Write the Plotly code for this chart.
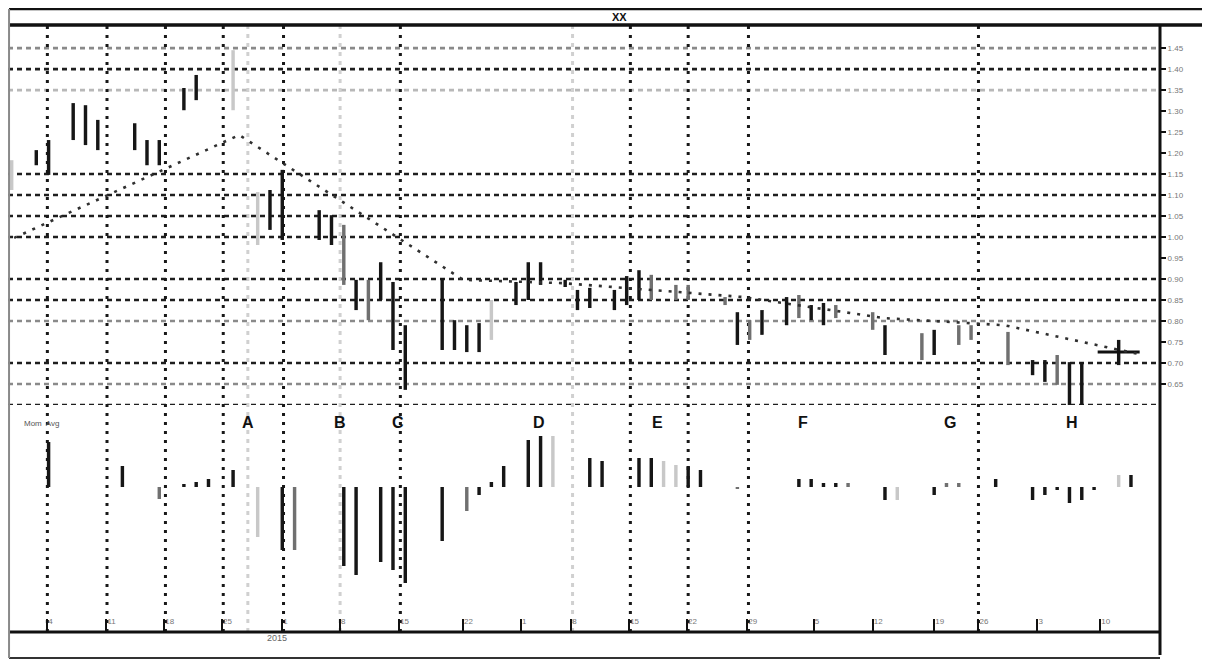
import plotly.graph_objects as go

# ---------------- data ----------------
# price bars: trading-day index, high, low, print shade (0 dark, 1 mid, 2 faint)
bar_days = [0, 2, 3, 5, 6, 7, 10, 11, 12, 14, 15, 18, 20, 21, 22, 25, 26, 27, 28, 29,
            30, 31, 32, 35, 36, 37, 38, 39, 41, 42, 43, 45, 46, 47, 49, 50, 51, 52, 54, 55,
            58, 59, 60, 61, 63, 64, 65, 66, 67, 70, 71, 74, 75, 77, 78, 81, 83, 84, 85, 86,
            87, 90]
bar_high = [118.3, 120.7, 123.1, 131.9, 131.4, 127.9, 127.1, 123.1, 123.1, 135.5, 138.6, 144.5,
            110.7, 111.2, 116.0, 106.4, 105.2, 102.9, 89.8, 89.8, 94.0, 89.3, 79.0, 90.2, 80.2,
            79.0, 79.5, 85.0, 89.3, 94.0, 94.0, 89.8, 87.4, 87.9, 87.4, 90.7, 92.1, 91.0, 88.6,
            88.6, 85.7, 82.1, 80.2, 82.6, 85.7, 86.2, 83.8, 84.3, 83.8, 82.1, 79.0, 77.1, 77.9,
            79.0, 79.0, 77.4, 70.7, 70.7, 71.9, 70.2, 70.2, 75.5]
bar_low = [111.2, 117.1, 114.8, 123.1, 121.9, 120.7, 120.7, 117.1, 117.1, 130.2, 132.6, 130.2,
           98.1, 101.7, 99.3, 99.3, 98.1, 88.6, 82.6, 80.2, 85.0, 73.1, 63.6, 73.1, 73.1,
           72.6, 72.6, 75.5, 83.8, 85.0, 88.6, 88.1, 82.6, 83.1, 82.6, 83.8, 85.0, 85.0, 85.0,
           85.0, 83.8, 74.3, 75.5, 76.7, 79.0, 80.7, 80.2, 79.0, 80.7, 77.9, 71.9, 70.7, 71.9,
           74.3, 75.5, 69.5, 67.1, 65.5, 64.8, 60.0, 60.0, 69.5]
bar_shade = [2, 0, 0, 0, 0, 0, 0, 0, 0, 0, 0, 2, 2, 0, 0, 0, 0, 1, 0, 1,
             0, 0, 0, 0, 0, 0, 0, 2, 0, 0, 0, 0, 0, 0, 0, 0, 0, 1, 1, 1,
             1, 0, 1, 0, 0, 1, 0, 0, 1, 1, 0, 1, 0, 1, 1, 1, 0, 0, 1, 0,
             0, 0]

# last bar drawn as a cross
cross_day = [90]
cross_price = [72.6]

# dotted trend line
trend_days = [0.2, 18.5, 36.7, 44.9, 59.5, 70.9, 80.7, 92.0]
trend_prices = [99.8, 124.3, 89.8, 89.0, 85.7, 80.7, 79.0, 71.9]

# lower panel: momentum histogram
mom_days = [3, 9, 12, 14, 15, 16, 18, 20, 22, 23, 27, 28, 30, 31, 32, 35, 37, 38, 39, 40,
            42, 43, 44, 47, 48, 51, 52, 53, 54, 55, 56, 59, 64, 65, 66, 67, 68, 71, 72, 75,
            76, 77, 80, 83, 84, 85, 86, 87, 88, 90, 91]
mom_vals = [4.5, 2.1, -1.2, 0.3, 0.5, 0.8, 1.7, -5.0, -6.3, -6.3, -7.9, -8.8, -7.5, -8.3, -9.6,
            -5.4, -2.4, -0.8, 0.5, 2.1, 4.7, 5.1, 5.1, 2.9, 2.6, 2.9, 2.9, 2.6, 2.2, 2.1, 1.7,
            -0.1, 0.8, 0.8, 0.4, 0.4, 0.4, -1.3, -1.3, -0.8, 0.4, 0.4, 0.8, -1.3, -0.8, -0.3,
            -1.6, -1.3, -0.3, 1.2, 1.2]
mom_shade = [0, 0, 1, 0, 0, 0, 0, 2, 0, 1, 0, 0, 0, 0, 0, 0, 1, 0, 0, 0,
             0, 0, 2, 0, 0, 0, 0, 2, 2, 0, 0, 1, 0, 0, 0, 0, 1, 0, 2, 0,
             1, 1, 0, 0, 0, 0, 0, 0, 0, 2, 0]

# horizontal price levels and their print shade
grid_levels = [145, 140, 135, 115, 110, 105, 100, 90, 85, 80, 70, 65, 60]
grid_shade = [1, 0, 2, 0, 0, 0, 0, 0, 0, 1, 0, 1, 0]

# right price scale
price_ticks = [65, 70, 75, 80, 85, 90, 95, 100, 105, 110, 115, 120, 125, 130, 135, 140, 145]
price_tick_text = ["0.65", "0.70", "0.75", "0.80", "0.85", "0.90", "0.95", "1.00", "1.05",
                   "1.10", "1.15", "1.20", "1.25", "1.30", "1.35", "1.40", "1.45"]

# weekly date scale
date_ticks = [2.9, 7.7, 12.4, 17.1, 22.0, 26.7, 31.5, 36.7, 41.4, 45.5, 50.2, 54.9, 59.8,
              65.2, 70.0, 75.0, 78.6, 83.4, 88.5]
date_tick_text = ["4", "11", "18", "25", "1", "8", "15", "22", "1", "8", "15", "22", "29",
                  "5", "12", "19", "26", "3", "10"]
year_label = "2015"

# vertical week separators
week_lines_dark = [2.9, 7.75, 12.5, 17.2, 22.1, 31.6, 50.3, 55.0, 59.9, 78.6]
week_lines_light = [19.2, 26.7, 45.6]

# event markers
event_days = [19.2, 26.7, 31.4, 42.9, 52.5, 64.3, 76.3, 86.2]
event_labels = ["A", "B", "C", "D", "E", "F", "G", "H"]

title_text = "XX"
panel_label = "Mom  Avg"

# ---------------- figure ----------------
SHADES = {0: "#161616", 1: "#707070", 2: "#c8c8c8"}
GRID = {0: "#1e1e1e", 1: "#8a8a8a", 2: "#b8b8b8"}
FONT = "Liberation Sans, Arial, sans-serif"

fig = go.Figure()

fig.add_trace(go.Bar(
    x=bar_days,
    y=[h - l for h, l in zip(bar_high, bar_low)],
    base=bar_low,
    width=0.28,
    marker=dict(color=[SHADES[s] for s in bar_shade], line_width=0),
    xaxis="x", yaxis="y", hoverinfo="skip", showlegend=False,
))

fig.add_trace(go.Scatter(
    x=cross_day, y=cross_price, mode="markers",
    marker=dict(symbol="line-ew", size=30, line=dict(width=3, color="#111")),
    xaxis="x", yaxis="y", hoverinfo="skip", showlegend=False,
))

fig.add_trace(go.Scatter(
    x=trend_days, y=trend_prices, mode="lines",
    line=dict(color="#303030", width=2.6, dash="3px,7px"),
    xaxis="x", yaxis="y", hoverinfo="skip", showlegend=False,
))

fig.add_trace(go.Bar(
    x=mom_days, y=mom_vals, base=0, width=0.28,
    marker=dict(color=[SHADES[s] for s in mom_shade], line_width=0),
    xaxis="x", yaxis="y2", hoverinfo="skip", showlegend=False,
))

shapes = []
for lvl, s in zip(grid_levels, grid_shade):
    shapes.append(dict(type="line", xref="paper", x0=0, x1=1, yref="y", y0=lvl, y1=lvl,
                       line=dict(color=GRID[s], width=2.6, dash="5px,4px"), layer="below"))
for d in week_lines_dark:
    shapes.append(dict(type="line", xref="x", x0=d, x1=d, yref="paper", y0=0, y1=1,
                       line=dict(color="#181818", width=3, dash="3px,6px"), layer="below"))
for d in week_lines_light:
    shapes.append(dict(type="line", xref="x", x0=d, x1=d, yref="paper", y0=0, y1=1,
                       line=dict(color="#d0d0d0", width=3, dash="4px,5px"), layer="below"))

# frame (the page adds an 8px body margin, so the figure is drawn 8px smaller)
shapes += [
    dict(type="line", xref="paper", yref="paper", x0=0.0009, x1=1.05, y0=1.0265, y1=1.0265,
         line=dict(color="#111", width=2.5)),
    dict(type="line", xref="paper", yref="paper", x0=0.0009, x1=1.05, y0=1.0, y1=1.0,
         line=dict(color="#111", width=3.5)),
    dict(type="line", xref="paper", yref="paper", x0=0.0009, x1=1.0, y0=0.0, y1=0.0,
         line=dict(color="#111", width=3)),
    dict(type="line", xref="paper", yref="paper", x0=0.0009, x1=1.0, y0=-0.0428, y1=-0.0428,
         line=dict(color="#333", width=2)),
    dict(type="line", xref="paper", yref="paper", x0=0.0009, x1=0.0009, y0=-0.0428, y1=1.0265,
         line=dict(color="#8a8a8a", width=2)),
    dict(type="line", xref="paper", yref="paper", x0=1.0, x1=1.0, y0=-0.038, y1=1.0,
         line=dict(color="#111", width=3)),
]

annotations = []
for d, lab in zip(event_days, event_labels):
    annotations.append(dict(x=d, y=6.4, xref="x", yref="y2", text="<b>" + lab + "</b>",
                            showarrow=False,
                            font=dict(family=FONT, size=16, color="#111"),
                            xanchor="center", yanchor="middle"))
annotations += [
    dict(x=0.531, y=1.0135, xref="paper", yref="paper", text="<b>" + title_text + "</b>",
         showarrow=False, yanchor="middle", font=dict(family=FONT, size=11, color="#111")),
    dict(x=0.223, y=-0.022, xref="paper", yref="paper", text=year_label, showarrow=False,
         font=dict(family=FONT, size=9, color="#666")),
    dict(x=0.012, y=6.3, xref="paper", yref="y2", text=panel_label, showarrow=False,
         xanchor="left", font=dict(family=FONT, size=8, color="#555")),
]

fig.update_layout(
    width=1202, height=653,
    margin=dict(l=0, r=50, t=17, b=29),
    paper_bgcolor="white", plot_bgcolor="white",
    barmode="overlay",
    showlegend=False,
    font=dict(family=FONT),
    xaxis=dict(
        range=[-0.3, 93.36], anchor="y2", domain=[0, 1],
        showgrid=False, zeroline=False, showline=False,
        tickmode="array", tickvals=date_ticks, ticktext=date_tick_text,
        ticks="inside", ticklen=13, tickwidth=2, tickcolor="#111",
        ticklabelposition="inside right",
        tickfont=dict(size=8, color="#777", family=FONT),
    ),
    yaxis=dict(
        domain=[0.374, 1], range=[60, 150.5], side="right", anchor="x",
        showgrid=False, zeroline=False, showline=False,
        tickmode="array", tickvals=price_ticks, ticktext=price_tick_text,
        ticks="outside", ticklen=5, tickwidth=2, tickcolor="#111",
        tickfont=dict(size=8, color="#777", family=FONT),
    ),
    yaxis2=dict(
        domain=[0, 0.374], range=[-14.5, 8.2], anchor="x",
        showgrid=False, zeroline=False, showline=False, showticklabels=False, ticks="",
    ),
    shapes=shapes,
    annotations=annotations,
)

fig.write_html("out.html")
